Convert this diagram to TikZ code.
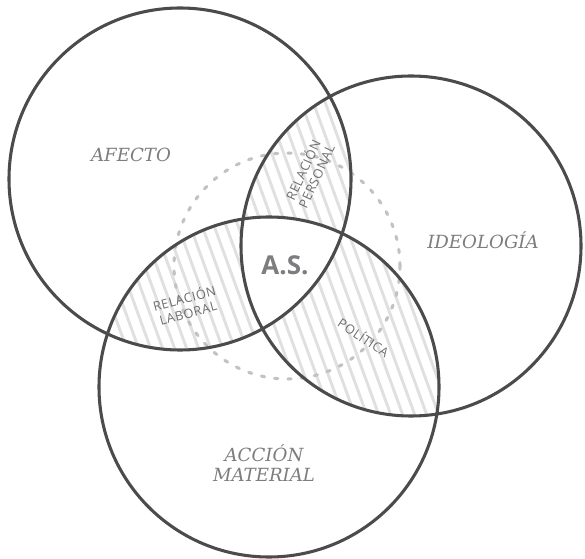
\documentclass[tikz,border=0pt]{standalone}
\usepackage{fontspec}
\newfontfamily\areafont{DejaVu Serif}
\newfontfamily\tagfont[LetterSpace=4]{Open Sans}
\newfontfamily\corefont{Open Sans}

\definecolor{ringgray}{HTML}{4B4B4B}
\definecolor{dashgray}{HTML}{C2C2C2}
\definecolor{hatchgray}{HTML}{E0E0E0}
\definecolor{areagray}{HTML}{7D7D7F}
\definecolor{taggray}{HTML}{6E6E70}

\begin{document}
\begin{tikzpicture}[x=0.75pt, y=-0.75pt,
    ring/.style={draw=ringgray, line width=2.3pt},
    core/.style={draw=dashgray, line width=2.3pt, line cap=round, dash pattern=on 2.5pt off 7.5pt},
    hatchline/.style={draw=hatchgray, line width=2.2pt},
    area/.style={font=\areafont\itshape\fontsize{13.6}{15}\selectfont, text=areagray, align=center},
    tag/.style={font=\tagfont\fontsize{9.6}{11}\selectfont, text=taggray, align=center, inner sep=0pt}]

    \useasboundingbox (0,0) rectangle (585,559);

    \def\ra{171}    % radius of AFECTO
    \def\rb{170}    % radius of IDEOLOGIA
    \def\rc{170}    % radius of ACCION MATERIAL
    \def\rd{113}    % radius of the dashed core

    \coordinate (afecto) at (180,179);
    \coordinate (ideologia) at (411,246);
    \coordinate (accion) at (269,387);
    \coordinate (nucleo) at (287,266);

    % Hatch every pairwise overlap, then blank out the middle again
    \foreach \p/\rp/\q/\rq in {afecto/\ra/ideologia/\rb, afecto/\ra/accion/\rc, ideologia/\rb/accion/\rc} {
        \begin{scope}
            \clip (\p) circle (\rp);
            \clip (\q) circle (\rq);
            \foreach \i in {-300,-288,...,600}
                \draw[hatchline] (\i,0) -- ++(205,564);
        \end{scope}
    }
    \begin{scope}
        \clip (afecto) circle (\ra);
        \clip (ideologia) circle (\rb);
        \fill[white] (accion) circle (\rc);
    \end{scope}

    \draw[core] (nucleo) circle (\rd);

    \draw[ring]
        (afecto) circle (\ra)
        (ideologia) circle (\rb)
        (accion) circle (\rc)
    ;

    \node (afectolbl) at (131,155) [area] {AFECTO};
    \node (ideologialbl) at (483,240) [area] {IDEOLOGÍA};
    \node (accionlbl) at (264,463) [area] {ACCIÓN\\MATERIAL};

    \node (aslbl) at (285,265) [font=\corefont\bfseries\fontsize{19.5}{22}\selectfont, text=areagray] {A.S.};

    \node (personal) at (309,173) [tag, rotate=65] {RELACIÓN\\PERSONAL};
    \node (laboral) at (186,305) [tag, rotate=15] {RELACIÓN\\LABORAL};
    \node (politica) at (364,337) [tag, rotate=-34] {POLÍTICA};

\end{tikzpicture}
\end{document}
